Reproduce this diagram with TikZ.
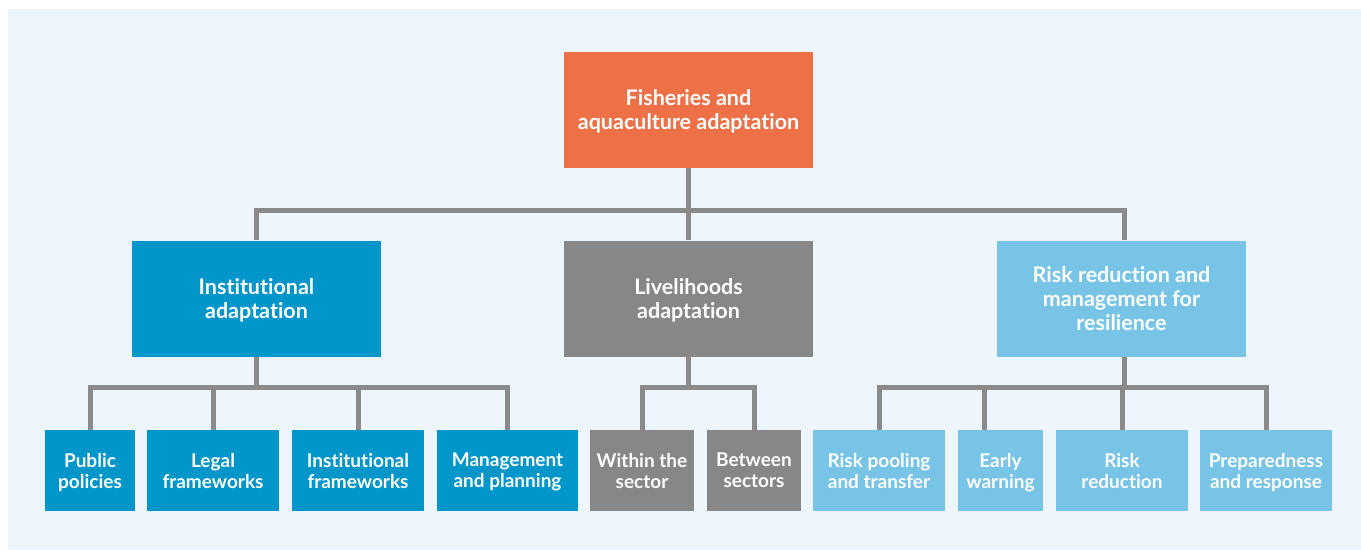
\documentclass[tikz,border=0pt]{standalone}
\usepackage{fontspec}
\setmainfont{Lato}[Ligatures=NoCommon]
\usetikzlibrary{positioning}
\definecolor{bgblue}{HTML}{EEF6FD}
\definecolor{faorange}{HTML}{EE7047}
\definecolor{instblue}{HTML}{0096C9}
\definecolor{livegray}{HTML}{878787}
\definecolor{riskblue}{HTML}{77C4E6}
\definecolor{linkgray}{HTML}{8A8A8A}
\tikzset{%
	box/.style      = {rectangle, text=white, align=center, inner sep=0pt, text centered, text depth=0pt, execute at begin node={\vphantom{I}}},
	bigbox/.style   = {box, minimum width=249pt, minimum height=116pt, font=\bfseries\fontsize{21.5}{24}\selectfont},
	leaf/.style     = {box, minimum height=81pt, font=\bfseries\fontsize{19}{21}\selectfont},
	link/.style     = {draw=linkgray, line width=5pt, line join=miter},
}
\begin{document}
\begin{tikzpicture}[x=1pt,y=-1pt]
	\useasboundingbox (0,0) rectangle (1361,550);
	\fill[bgblue] (8,9) rectangle (1361,550);

	% top and second level
	\node [bigbox,fill=faorange] (top) at (688.5,110) {Fisheries and\\aquaculture adaptation};
	\node [bigbox,fill=instblue] (inst) at (256.5,298.5) {Institutional\\adaptation};
	\node [bigbox,fill=livegray] (live) at (688.5,298.5) {Livelihoods\\adaptation};
	\node [bigbox,fill=riskblue] (risk) at (1121.5,298.5) {Risk reduction and\\management for\\resilience};

	% leaves
	\node [leaf,fill=instblue,minimum width=90pt]  (pub)    at (90,470.5)    {Public\\policies};
	\node [leaf,fill=instblue,minimum width=132pt] (legal)  at (213,470.5)   {Legal\\frameworks};
	\node [leaf,fill=instblue,minimum width=132pt] (instfw) at (358,470.5)   {Institutional\\frameworks};
	\node [leaf,fill=instblue,minimum width=141pt] (mgmt)   at (507.5,470.5) {Management\\and planning};
	\node [leaf,fill=livegray,minimum width=104pt] (within) at (642,470.5)   {Within the\\sector};
	\node [leaf,fill=livegray,minimum width=94pt]  (betw)   at (754,470.5)   {Between\\sectors};
	\node [leaf,fill=riskblue,minimum width=132pt] (pool)   at (879,470.5)   {Risk pooling\\and transfer};
	\node [leaf,fill=riskblue,minimum width=85pt]  (early)  at (1000.5,470.5){Early\\warning};
	\node [leaf,fill=riskblue,minimum width=132pt] (riskred) at (1122,470.5)  {Risk\\reduction};
	\node [leaf,fill=riskblue,minimum width=132pt] (prep)   at (1266,470.5)  {Preparedness\\and response};

	\coordinate (busa) at (0,210);
	\coordinate (busb) at (0,387.5);
	\coordinate (riskin) at ([xshift=2.5pt]risk.north);
	\coordinate (riskout) at ([xshift=2.5pt]risk.south);
	\coordinate (earlyin) at ([xshift=-16pt]early.north);

	\draw[link] (top) -- (live);
	\draw[link] (inst.north) -- (inst.north |- busa) -- (riskin |- busa) -- (riskin);

	\draw[link] (inst.south) -- (inst.south |- busb);
	\draw[link] (pub.north) -- (pub.north |- busb) -- (mgmt.north |- busb) -- (mgmt.north);
	\foreach \n in {legal,instfw}
		\draw[link] (\n.north) -- (\n.north |- busb);

	\draw[link] (live.south) -- (live.south |- busb);
	\draw[link] (within.north) -- (within.north |- busb) -- (betw.north |- busb) -- (betw.north);

	\draw[link] (riskout) -- (riskout |- busb);
	\draw[link] (pool.north) -- (pool.north |- busb) -- (prep.north |- busb) -- (prep.north);
	\draw[link] (earlyin) -- (earlyin |- busb);
	\draw[link] (riskred.north) -- (riskred.north |- busb);
\end{tikzpicture}
\end{document}
